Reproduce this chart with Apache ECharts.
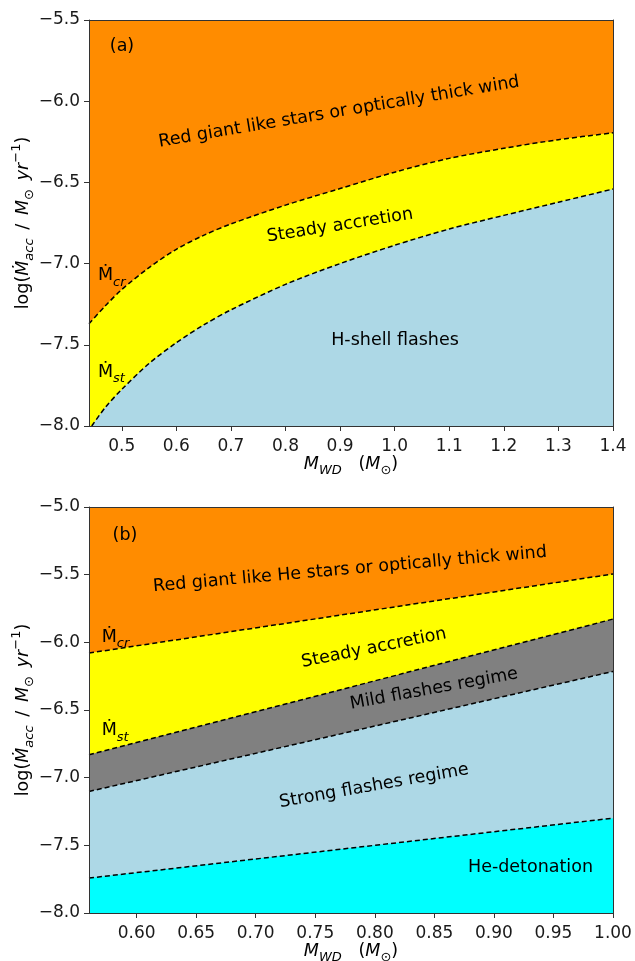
<!DOCTYPE html>
<html>
<head>
<meta charset="utf-8">
<script src="https://cdn.jsdelivr.net/npm/echarts@6/dist/echarts.min.js"></script>
<style>
html,body{margin:0;padding:0;background:#fff;}
#c{width:635px;height:961px;}
</style>
</head>
<body>
<div id="c"></div>
<script>
// ---------- Panel (a) data ----------
const aMcrMass = [0.44, 0.47, 0.50, 0.55, 0.60, 0.65, 0.70, 0.80, 0.90, 1.00, 1.10, 1.20, 1.30, 1.40];
const aMcr     = [-7.37, -7.26, -7.16, -7.025, -6.912, -6.826, -6.756, -6.64, -6.538, -6.437, -6.352, -6.29, -6.237, -6.195];
const aMstMass = [0.445, 0.47, 0.50, 0.55, 0.60, 0.65, 0.70, 0.80, 0.90, 1.00, 1.10, 1.20, 1.30, 1.40];
const aMst     = [-8.00, -7.885, -7.775, -7.615, -7.487, -7.378, -7.285, -7.128, -7.000, -6.887, -6.787, -6.703, -6.622, -6.541];
const aXTicks  = [0.5, 0.6, 0.7, 0.8, 0.9, 1.0, 1.1, 1.2, 1.3, 1.4];

// ---------- Panel (b) data ----------
const bMass      = [0.56, 0.78, 1.00];
const bMcr       = [-6.079, -5.787, -5.495];
const bMst       = [-6.831, -6.330, -5.828];
const bMild      = [-7.102, -6.659, -6.215];
const bDetonate  = [-7.742, -7.520, -7.299];
const bXTicks    = [0.60, 0.65, 0.70, 0.75, 0.80, 0.85, 0.90, 0.95, 1.00];

const FONT = 'DejaVu Sans';
const AX = '#333';
const TXT = '#1a1a1a';
const C_ORANGE = '#FF8C00', C_YELLOW = '#FFFF00', C_LB = '#ADD8E6', C_GRAY = '#808080', C_CYAN = '#00FFFF';

const minus = v => String(v).replace('-', '\u2212');

function pairs(xs, ys) { return xs.map((x, i) => [x, ys[i]]); }

function band(xi, yi, xs, ys, fill, smooth) {
  return {
    type: 'line', xAxisIndex: xi, yAxisIndex: yi,
    data: pairs(xs, ys), symbol: 'none', smooth: smooth,
    lineStyle: { color: '#000', width: 1.5, type: [5, 3] },
    areaStyle: { color: fill, opacity: 1, origin: 'start' },
    silent: true, animation: false, clip: true
  };
}

function xAxisMain(gi, min, max, ticks, dec) {
  return {
    type: 'value', gridIndex: gi, min: min, max: max, position: 'bottom', z: 10,
    axisLine: { show: true, onZero: false, lineStyle: { color: AX, width: 1 } },
    axisTick: { show: true, inside: false, length: 5, customValues: ticks, lineStyle: { color: AX } },
    axisLabel: { show: true, customValues: ticks, margin: 12, color: TXT, fontSize: 17, fontFamily: FONT,
                 formatter: v => v.toFixed(dec) },
    splitLine: { show: false }
  };
}
function xAxisTop(gi, min, max) {
  return {
    type: 'value', gridIndex: gi, min: min, max: max, position: 'top', z: 10,
    axisLine: { show: true, onZero: false, lineStyle: { color: AX, width: 1 } },
    axisTick: { show: false }, axisLabel: { show: false }, splitLine: { show: false }
  };
}
function yAxisMain(gi, min, max) {
  return {
    type: 'value', gridIndex: gi, min: min, max: max, interval: 0.5, position: 'left', z: 10,
    axisLine: { show: true, onZero: false, lineStyle: { color: AX, width: 1 } },
    axisTick: { show: true, inside: false, length: 5, lineStyle: { color: AX } },
    axisLabel: { show: true, margin: 9, color: TXT, fontSize: 17, fontFamily: FONT,
                 formatter: v => minus(v.toFixed(1)) },
    splitLine: { show: false }
  };
}
function yAxisRight(gi, min, max) {
  return {
    type: 'value', gridIndex: gi, min: min, max: max, position: 'right', z: 10,
    axisLine: { show: true, onZero: false, lineStyle: { color: AX, width: 1 } },
    axisTick: { show: false }, axisLabel: { show: false }, splitLine: { show: false }
  };
}

const FS = 17.5;
const SS = 13;
const base = { fontFamily: FONT, fontSize: FS, lineHeight: 26 };
const richStyles = {
  n:   Object.assign({}, base),
  i:   Object.assign({}, base, { fontStyle: 'italic' }),
  is:  { fontFamily: FONT, fontSize: SS, lineHeight: SS, fontStyle: 'italic', verticalAlign: 'bottom' },
  s:   { fontFamily: FONT, fontSize: SS, lineHeight: SS, verticalAlign: 'bottom' },
  sup: { fontFamily: FONT, fontSize: SS, lineHeight: SS, verticalAlign: 'top' }
};

function txt(x, y, text, deg) {
  return {
    type: 'text', x: x, y: y, rotation: (deg || 0) * Math.PI / 180, z: 100, silent: true,
    style: { text: text, fontFamily: FONT, fontSize: FS, fill: '#000', align: 'center', verticalAlign: 'middle', rich: richStyles }
  };
}
function leftTxt(x, y, text) {
  return {
    type: 'text', x: x, y: y, z: 100, silent: true,
    style: { text: text, fontFamily: FONT, fontSize: FS, fill: '#000', align: 'left', verticalAlign: 'middle', rich: richStyles }
  };
}

const yTitle = '{n|log(}{i|\u1E40}{is|acc}{n|\u2002/\u2002}{i|M}{s|\u2299}{n|\u2002}{i|yr}{sup|\u22121}{n|)}';
const xTitle = '{i|M}{is|WD}{n|   (}{i|M}{s|\u2299}{n|)}';

const option = {
  backgroundColor: '#fff',
  animation: false,
  grid: [
    { left: 89, top: 20, width: 524, height: 406, show: true, backgroundColor: C_ORANGE, borderWidth: 0 },
    { left: 89, top: 507, width: 524, height: 406, show: true, backgroundColor: C_ORANGE, borderWidth: 0 }
  ],
  xAxis: [
    xAxisMain(0, 0.44, 1.4, aXTicks, 1),
    xAxisTop(0, 0.44, 1.4),
    xAxisMain(1, 0.56, 1.0, bXTicks, 2),
    xAxisTop(1, 0.56, 1.0)
  ],
  yAxis: [
    yAxisMain(0, -8, -5.5),
    yAxisRight(0, -8, -5.5),
    yAxisMain(1, -8, -5),
    yAxisRight(1, -8, -5)
  ],
  series: [
    band(0, 0, aMcrMass, aMcr, C_YELLOW, 0.3),
    band(0, 0, aMstMass, aMst, C_LB, 0.3),
    band(2, 2, bMass, bMcr, C_YELLOW, false),
    band(2, 2, bMass, bMst, C_GRAY, false),
    band(2, 2, bMass, bMild, C_LB, false),
    band(2, 2, bMass, bDetonate, C_CYAN, false)
  ],
  graphic: { elements: [
    // panel (a)
    txt(122, 46, '(a)'),
    txt(339, 112, 'Red giant like stars or optically thick wind', 9.5),
    txt(340, 225.5, 'Steady accretion', 9.0),
    txt(395, 340, 'H-shell flashes'),
    leftTxt(98, 275.8, '{n|\u1E40}{is|cr}'),
    leftTxt(98, 372.4, '{n|\u1E40}{is|st}'),
    txt(23, 223, yTitle, 90),
    txt(351, 464, xTitle),
    // panel (b)
    txt(125, 535, '(b)'),
    txt(350, 569.5, 'Red giant like He stars or optically thick wind', 5.0),
    txt(374, 648, 'Steady accretion', 11.3),
    txt(434, 689, 'Mild flashes regime', 10.4),
    txt(374, 786, 'Strong flashes regime', 10.0),
    txt(530.5, 867, 'He-detonation'),
    leftTxt(101.7, 637.4, '{n|\u1E40}{is|cr}'),
    leftTxt(101.7, 730.8, '{n|\u1E40}{is|st}'),
    txt(23, 710, yTitle, 90),
    txt(351, 951.5, xTitle)
  ] }
};

const chart = echarts.init(document.getElementById('c'), null, { renderer: 'canvas' });
chart.setOption(option);
</script>
</body>
</html>
